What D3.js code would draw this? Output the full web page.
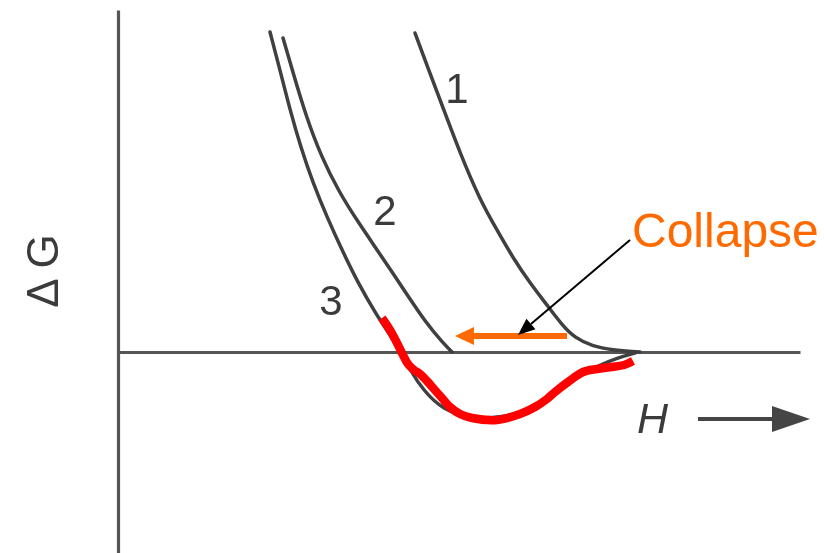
<!DOCTYPE html>
<html>
<head>
<meta charset="utf-8">
<script src="https://cdn.jsdelivr.net/npm/d3@7/dist/d3.min.js"></script>
<style>
  html, body { margin: 0; padding: 0; background: #ffffff; }
  svg { display: block; }
</style>
</head>
<body>
<svg id="chart" width="824" height="553"></svg>
<script>
// Free energy ΔG versus nucleus size H: three curves, collapse path.
const curve1 = [
  [29.7, 31.9], [31.0, 28.4], [32.4, 24.7], [34.2, 19.9], [36.2, 15.2],
  [37.9, 12.2], [39.5, 9.4], [41.2, 6.9], [42.9, 4.7], [44.4, 2.7],
  [45.7, 1.4], [47.4, 0.6], [49.4, 0.2], [52.2, 0.0]
];
const curve2 = [
  [16.5, 31.4], [17.6, 27.6], [18.8, 23.6], [20.3, 19.6], [22.1, 16.0],
  [24.0, 13.0], [26.2, 9.8], [28.6, 6.2], [30.8, 2.9], [32.5, 0.9], [33.4, 0.0]
];
const curve3 = [
  [15.2, 32.0], [16.2, 28.2], [17.2, 24.2], [18.3, 20.4], [19.5, 16.9],
  [20.9, 13.5], [22.4, 10.2], [24.0, 6.9], [25.8, 3.8], [27.2, 1.7],
  [28.2, 0.2], [29.2, -1.8], [30.5, -3.8], [32.5, -5.8], [35.2, -6.6],
  [38.2, -6.6], [41.2, -5.8], [43.7, -4.1], [46.2, -2.3], [48.2, -1.3],
  [49.9, -0.6], [51.7, -0.1]
];
const redPath = [
  [26.4, 3.4], [27.2, 2.2], [27.9, 0.9], [28.5, -0.3], [29.0, -1.2],
  [29.6, -1.8], [30.2, -2.2], [30.9, -2.9], [31.6, -3.7], [32.4, -4.6],
  [33.2, -5.5], [34.2, -6.2], [35.4, -6.6], [37.9, -6.8], [40.2, -6.2],
  [41.7, -5.5], [42.9, -4.7], [43.7, -4.0], [45.0, -3.0], [46.5, -2.0],
  [47.9, -1.7], [49.4, -1.5], [50.6, -1.3], [51.5, -0.9]
];
const curveLabels = ["1", "2", "3"];
const curveLabelPos = [[33.9, 24.9], [26.7, 12.7], [21.3, 3.7]];
const collapseArrow = [[44.9, 1.6], [33.7, 1.6]];      // orange: from, to
const pointerArrow = [[51.2, 11.2], [40.0, 1.7]];      // black: from, to
const collapseText = "Collapse";
const collapseTextPos = [51.4, 10.5];
const hArrow = [[58.0, -6.7], [69.2, -6.7]];
const hLabel = "H";
const hLabelPos = [51.9, -8.1];
const yLabel = "Δ G";

const svg = d3.select("#chart");
const x = d3.scaleLinear().domain([0, 68.2]).range([118, 800]);
const y = d3.scaleLinear().domain([-20.1, 34.2]).range([553, 10]);

const defs = svg.append("defs");
defs.append("filter").attr("id", "soft")
  .attr("x", "-5%").attr("y", "-5%").attr("width", "110%").attr("height", "110%")
  .append("feGaussianBlur").attr("stdDeviation", 0.7);

const gray = "#3f3f3f";
const ink = svg.append("g").attr("filter", "url(#soft)");

// Axes: bare domain lines without ticks
const xAxis = d3.axisBottom(x).tickValues([]).tickSizeOuter(0);
const yAxis = d3.axisLeft(y).tickValues([]).tickSizeOuter(0);
ink.append("g").attr("transform", `translate(0,${y(0)})`).call(xAxis)
  .select(".domain").attr("stroke", "#555").attr("stroke-width", 3.2);
ink.append("g").attr("transform", `translate(${x(0)},0)`).call(yAxis)
  .select(".domain").attr("stroke", "#555").attr("stroke-width", 3.2);

const smooth = d3.line()
  .x(d => x(d[0])).y(d => y(d[1]))
  .curve(d3.curveBasis);

[curve1, curve2, curve3].forEach(c => {
  ink.append("path").attr("d", smooth(c))
    .attr("fill", "none").attr("stroke", gray)
    .attr("stroke-width", 3.5).attr("stroke-linecap", "round");
});

// Curve numbers
ink.selectAll("text.num").data(curveLabels).join("text")
  .attr("class", "num")
  .attr("x", (d, i) => x(curveLabelPos[i][0]))
  .attr("y", (d, i) => y(curveLabelPos[i][1]))
  .attr("text-anchor", "middle")
  .attr("font-family", "Liberation Sans, Arial, sans-serif")
  .attr("font-size", 42).attr("fill", "#3a3a3a")
  .text(d => d);

// Axis titles
ink.append("text")
  .attr("transform", `translate(${x(0) - 60},${y(8.1)}) rotate(-90)`)
  .attr("text-anchor", "middle")
  .attr("font-family", "Liberation Sans, Arial, sans-serif")
  .attr("font-size", 44).attr("fill", "#3a3a3a")
  .text(yLabel);

ink.append("text")
  .attr("x", x(hLabelPos[0])).attr("y", y(hLabelPos[1]))
  .attr("font-family", "Liberation Sans, Arial, sans-serif")
  .attr("font-style", "italic")
  .attr("font-size", 43).attr("fill", "#3a3a3a")
  .text(hLabel);

// H direction arrow
const hx0 = x(hArrow[0][0]), hx1 = x(hArrow[1][0]), hy = y(hArrow[0][1]);
ink.append("line").attr("x1", hx0).attr("x2", hx1 - 34).attr("y1", hy).attr("y2", hy)
  .attr("stroke", "#444").attr("stroke-width", 4);
ink.append("path")
  .attr("d", `M${hx1},${hy} L${hx1 - 38},${hy - 13} L${hx1 - 38},${hy + 13} Z`)
  .attr("fill", "#444");

// Red collapse path over curve 3
const hand = d3.line()
  .x(d => x(d[0])).y(d => y(d[1]))
  .curve(d3.curveCatmullRom.alpha(0.5));
svg.append("path").attr("d", hand(redPath))
  .attr("fill", "none").attr("stroke", "#ff0000")
  .attr("stroke-width", 8.5).attr("stroke-linecap", "butt").attr("stroke-linejoin", "round");

// Orange arrow pointing toward smaller H
const orange = "#ff6a00";
const ox0 = x(collapseArrow[0][0]), ox1 = x(collapseArrow[1][0]), oy = y(collapseArrow[0][1]);
svg.append("line").attr("x1", ox0).attr("x2", ox1 + 16).attr("y1", oy).attr("y2", oy)
  .attr("stroke", orange).attr("stroke-width", 6);
svg.append("path")
  .attr("d", `M${ox1},${oy} L${ox1 + 19},${oy - 9} L${ox1 + 19},${oy + 9} Z`)
  .attr("fill", orange);

// Black pointer from the label to the orange arrow
const px0 = x(pointerArrow[0][0]), py0 = y(pointerArrow[0][1]);
const px1 = x(pointerArrow[1][0]), py1 = y(pointerArrow[1][1]);
const ang = Math.atan2(py1 - py0, px1 - px0);
const hl = 17, hw = 7;
const bx = px1 - hl * Math.cos(ang), by = py1 - hl * Math.sin(ang);
svg.append("line").attr("x1", px0).attr("y1", py0).attr("x2", bx).attr("y2", by)
  .attr("stroke", "#000").attr("stroke-width", 2);
svg.append("path")
  .attr("d", `M${px1},${py1} L${bx - hw * Math.sin(ang)},${by + hw * Math.cos(ang)} L${bx + hw * Math.sin(ang)},${by - hw * Math.cos(ang)} Z`)
  .attr("fill", "#000");

svg.append("text")
  .attr("x", x(collapseTextPos[0])).attr("y", y(collapseTextPos[1]))
  .attr("font-family", "Liberation Sans, Arial, sans-serif")
  .attr("font-size", 48).attr("fill", orange)
  .text(collapseText);
</script>
</body>
</html>
